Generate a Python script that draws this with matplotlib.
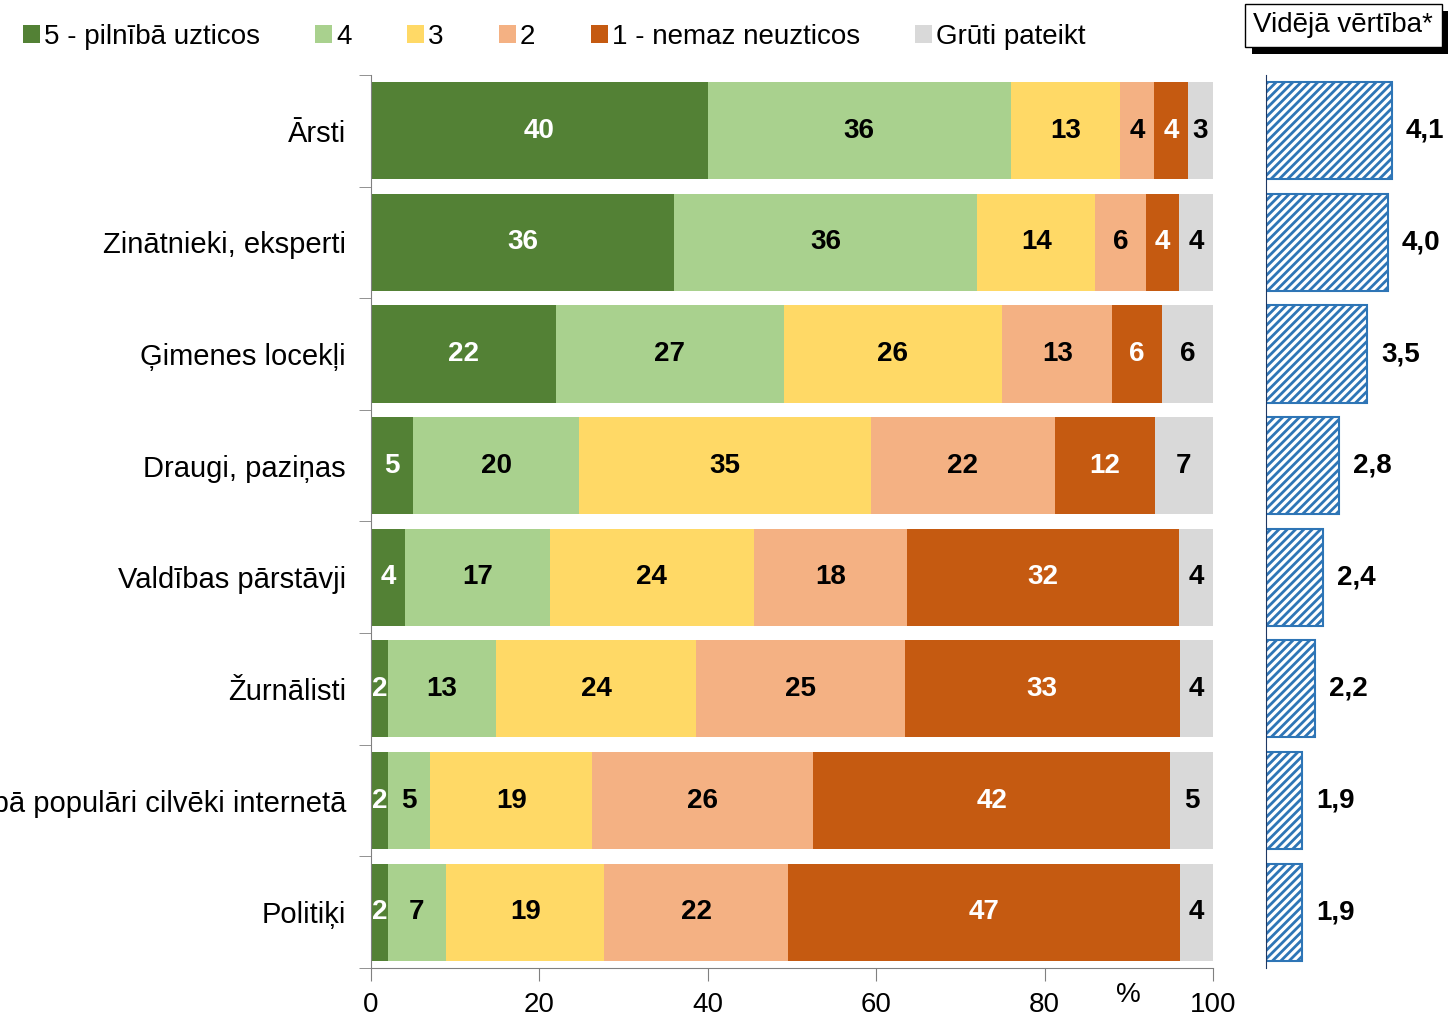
import matplotlib
matplotlib.use('Agg')
import matplotlib.pyplot as plt
import matplotlib.patheffects as pe
import numpy as np

plt.rcParams['font.family'] = ['Liberation Sans', 'DejaVu Sans']
plt.rcParams['hatch.linewidth'] = 2.0

categories = ['Ārsti', 'Zinātnieki, eksperti', 'Ģimenes locekļi', 'Draugi, paziņas',
              'Valdības pārstāvji', 'Žurnālisti',
              'Sabiedrībā populāri cilvēki internetā', 'Politiķi']
series_names = ['5 - pilnībā uzticos', '4', '3', '2', '1 - nemaz neuzticos', 'Grūti pateikt']
trust_5 = [40, 36, 22, 5, 4, 2, 2, 2]
trust_4 = [36, 36, 27, 20, 17, 13, 5, 7]
trust_3 = [13, 14, 26, 35, 24, 24, 19, 19]
trust_2 = [4, 6, 13, 22, 18, 25, 26, 22]
trust_1 = [4, 4, 6, 12, 32, 33, 42, 47]
hard_to_say = [3, 4, 6, 7, 4, 4, 5, 4]
mean_values = [4.1, 4.0, 3.5, 2.8, 2.4, 2.2, 1.9, 1.9]

colors = ['#538135', '#A9D18E', '#FFD966', '#F4B183', '#C55A11', '#D9D9D9']
text_colors = ['white', 'black', 'black', 'black', 'white', 'black']

fig = plt.figure(figsize=(14.53, 10.17), dpi=100)
ax = fig.add_axes([0.2553, 0.0482, 0.5795, 0.8781])
ax2 = fig.add_axes([0.8713, 0.0482, 0.1115, 0.8781])

data = np.array([trust_5, trust_4, trust_3, trust_2, trust_1, hard_to_say], dtype=float)
# rindas normalizējam līdz 100 %
shares = data / data.sum(axis=0) * 100
y = np.arange(len(categories))
left = np.zeros(len(categories))
for i, name in enumerate(series_names):
    ax.barh(y, shares[i], left=left, height=0.87, color=colors[i], label=name)
    for j in range(len(categories)):
        ax.text(left[j] + shares[i][j] / 2, y[j], f'{int(data[i][j])}',
                ha='center', va='center', fontsize=20, fontweight='bold',
                color=text_colors[i])
    left += shares[i]

ax.set_xlim(0, 100)
ax.set_ylim(len(categories) - 0.5, -0.5)
ax.set_xticks([0, 20, 40, 60, 80, 100])
ax.tick_params(axis='x', labelsize=20, length=9, color='#808080', pad=8)
ax.set_yticks(y)
ax.set_yticklabels(categories, fontsize=21)
ax.tick_params(axis='y', length=0, pad=18)
ax.set_yticks(np.arange(len(categories) + 1) - 0.5, minor=True)
ax.tick_params(axis='y', which='minor', length=9, color='#808080')
for s in ['top', 'right']:
    ax.spines[s].set_visible(False)
ax.spines['left'].set_color('#808080')
ax.spines['bottom'].set_color('#808080')
ax.text(90, -0.03, '%', transform=ax.get_xaxis_transform(), ha='center',
        va='center', fontsize=20)

# vidējās vērtības
ax2.barh(y, np.array(mean_values) - 1, left=1, height=0.87, color='white',
         edgecolor='#2E75B6', hatch='////', linewidth=1.5)
for j, v in enumerate(mean_values):
    ax2.text(v + 0.35, y[j], f'{v:.1f}'.replace('.', ','), ha='left', va='center',
             fontsize=20, fontweight='bold')
ax2.set_xlim(1, 5)
ax2.set_ylim(len(categories) - 0.5, -0.5)
ax2.set_xticks([])
ax2.set_yticks([])
for s in ['top', 'right', 'bottom']:
    ax2.spines[s].set_visible(False)
ax2.spines['left'].set_color('#1F3864')
ax2.patch.set_alpha(0)

t = fig.text(0.9245, 0.975, 'Vidējā vērtība*', ha='center', va='center', fontsize=20,
             bbox=dict(boxstyle='square,pad=0.3', facecolor='white',
                       edgecolor='black', linewidth=1))
t.get_bbox_patch().set_path_effects([
    pe.withSimplePatchShadow(offset=(5, -5), shadow_rgbFace='black', alpha=1.0)])

fig.legend(loc='center', bbox_to_anchor=(0.3815, 0.964), ncol=6, frameon=False,
           fontsize=20, handlelength=0.6, handleheight=0.6, handletextpad=0.15,
           columnspacing=2.0)

fig.savefig('out.png', dpi=100)
